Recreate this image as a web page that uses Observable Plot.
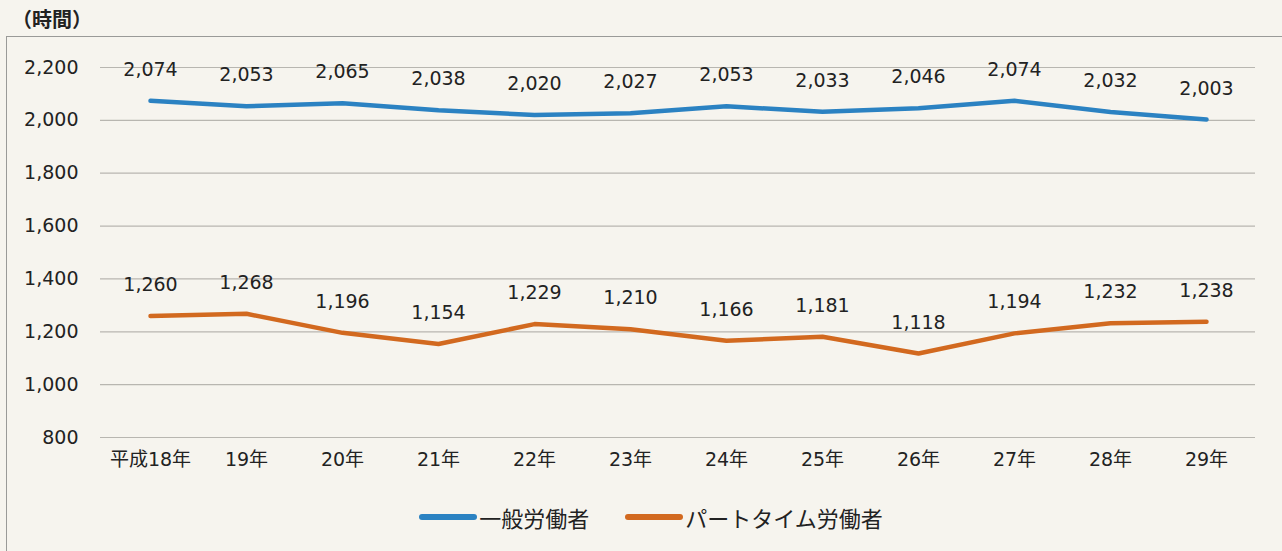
<!DOCTYPE html>
<html><head><meta charset="utf-8">
<script src="https://cdn.jsdelivr.net/npm/d3@7"></script>
<script src="https://cdn.jsdelivr.net/npm/@observablehq/plot@0.6"></script>
<style>
body{margin:0;background:#f6f4ee;}
#wrap{position:relative;width:1282px;height:551px;overflow:hidden;background:#f6f4ee;font-family:"DejaVu Sans","Noto Sans CJK JP",sans-serif;color:#222;}
#frame{position:absolute;left:6px;top:36px;width:1300px;height:600px;border-top:1.5px solid #9a9a98;border-left:1.5px solid #9a9a98;}
#unit{position:absolute;left:12px;top:4px;font-size:20px;font-weight:bold;color:#222;font-family:"Noto Sans CJK JP",sans-serif;}
#chart{position:absolute;left:0;top:0;}
#legend{position:absolute;top:501px;left:10px;width:1282px;display:flex;justify-content:center;gap:36px;font-size:22px;font-family:"Noto Sans CJK JP",sans-serif;}
.item{display:flex;align-items:center;}
.sw{display:inline-block;width:58px;height:6px;border-radius:3px;margin-right:2px;}
</style></head>
<body><div id="wrap"><div id="frame"></div><div id="unit">（時間）</div><div id="chart"></div><div id="legend"></div></div>
<script>
const years = ["平成18年","19年","20年","21年","22年","23年","24年","25年","26年","27年","28年","29年"];
const seriesNames = ["一般労働者","パートタイム労働者"];
const general = [2074,2053,2065,2038,2020,2027,2053,2033,2046,2074,2032,2003];
const parttime = [1260,1268,1196,1154,1229,1210,1166,1181,1118,1194,1232,1238];
const yTicks = [800,1000,1200,1400,1600,1800,2000,2200];
const colors = ["#2b82c2","#d2691f"];

const data = [];
years.forEach((y,i)=>{
  data.push({year:y, series:seriesNames[0], value:general[i]});
  data.push({year:y, series:seriesNames[1], value:parttime[i]});
});
const fmt = d3.format(",");

const chart = Plot.plot({
  width:1282, height:490,
  marginLeft:100, marginRight:27, marginTop:67, marginBottom:53,
  style:{background:"transparent", fontFamily:"'DejaVu Sans','Noto Sans CJK JP',sans-serif", color:"#222"},
  x:{type:"point", domain:years, padding:0.5},
  y:{domain:[800,2200]},
  color:{domain:seriesNames, range:colors},
  marks:[
    Plot.ruleY(yTicks,{stroke:"#b8b6b0", strokeWidth:1.2}),
    Plot.axisY({ticks:yTicks, tickFormat:fmt, label:null, tickSize:0, tickPadding:22, fontSize:19, fill:"#222"}),
    Plot.axisX({label:null, tickSize:0, tickPadding:15, fontSize:19, fill:"#222"}),
    Plot.line(data,{x:"year", y:"value", z:"series", stroke:"series", strokeWidth:4.5, strokeLinejoin:"round", strokeLinecap:"round"}),
    Plot.text(data,{x:"year", y:"value", text:d=>fmt(d.value), dy:-31, fill:"#222", fontSize:19})
  ]
});
document.getElementById("chart").appendChild(chart);

const lg = document.getElementById("legend");
seriesNames.forEach((n,i)=>{
  const it = document.createElement("div"); it.className="item";
  const sw = document.createElement("span"); sw.className="sw"; sw.style.background=colors[i];
  it.appendChild(sw); it.appendChild(document.createTextNode(n));
  lg.appendChild(it);
});
</script></body></html>
